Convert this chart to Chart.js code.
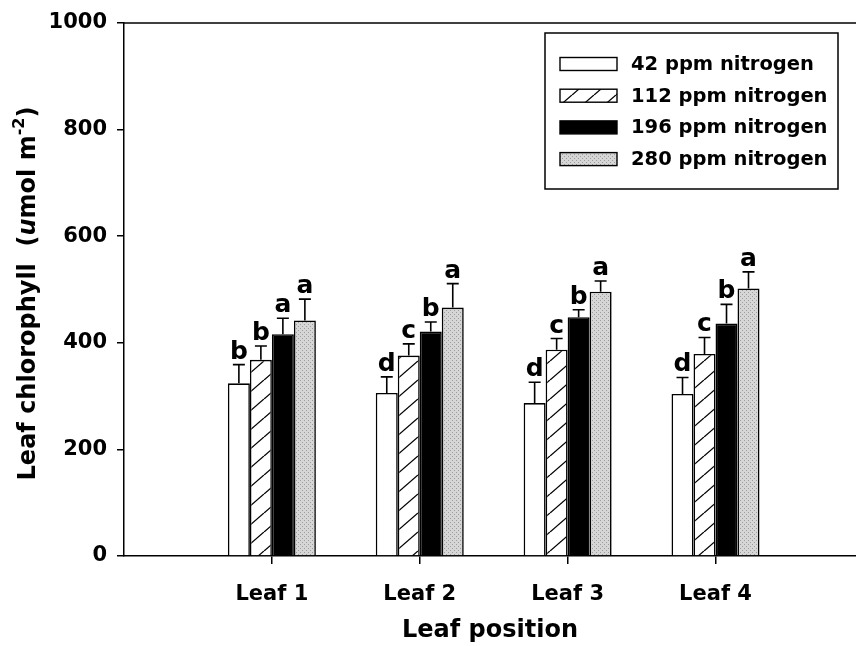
<!DOCTYPE html>
<html>
<head>
<meta charset="utf-8">
<script src="https://cdn.jsdelivr.net/npm/chart.js@4.4.1/dist/chart.umd.min.js"></script>
<style>
  html, body { margin: 0; padding: 0; background: #fff; }
  canvas { display: block; }
</style>
</head>
<body>
<canvas id="graph" width="856" height="646"></canvas>
<script>
// values (umol m-2)
var leafLabels = ["Leaf 1", "Leaf 2", "Leaf 3", "Leaf 4"];
var seriesNames = ["42 ppm nitrogen", "112 ppm nitrogen", "196 ppm nitrogen", "280 ppm nitrogen"];

var n42  = [324, 306, 287, 304];
var n112 = [368, 376, 387, 379];
var n196 = [416, 421, 448, 436];
var n280 = [442, 466, 496, 502];

var err42  = [35, 30, 39, 31];
var err112 = [26, 22, 21, 31];
var err196 = [30, 18, 14, 36];
var err280 = [40, 45, 20, 31];

var letters42  = ["b", "d", "d", "d"];
var letters112 = ["b", "c", "c", "c"];
var letters196 = ["a", "b", "b", "b"];
var letters280 = ["a", "a", "a", "a"];

var yTicks = [0, 200, 400, 600, 800, 1000];

var FONT = "'DejaVu Sans', 'Liberation Sans', sans-serif";

var ctx = document.getElementById("graph").getContext("2d");

function hatchPattern() {
    let c = document.createElement("canvas");
    c.width = 22; c.height = 19;
    let g = c.getContext("2d");
    g.fillStyle = "#fff";
    g.fillRect(0, 0, 22, 19);
    g.strokeStyle = "#000";
    g.lineWidth = 1.3;
    [-22, 0, 22].forEach(dx => {
        g.beginPath();
        g.moveTo(dx, 19);
        g.lineTo(dx + 22, 0);
        g.stroke();
    });
    return ctx.createPattern(c, "repeat");
}

function stipplePattern() {
    let c = document.createElement("canvas");
    c.width = 4; c.height = 4;
    let g = c.getContext("2d");
    g.fillStyle = "#d6d6d6";
    g.fillRect(0, 0, 4, 4);
    g.fillStyle = "#9c9c9c";
    g.fillRect(0, 0, 1, 1);
    g.fillRect(2, 2, 1, 1);
    return ctx.createPattern(c, "repeat");
}

var fills = ["#ffffff", hatchPattern(), "#000000", stipplePattern()];
var values = [n42, n112, n196, n280];
var errors = [err42, err112, err196, err280];
var letters = [letters42, letters112, letters196, letters280];

var datasets = seriesNames.map((name, i) => ({
    label: name,
    data: values[i].map((v, j) => ({ x: j + 1, y: v })),
    errors: errors[i],
    letters: letters[i],
    backgroundColor: fills[i],
    borderColor: "#000",
    borderWidth: 1.6,
    categoryPercentage: 0.595,
    barPercentage: 1.0
}));

// error bars and significance letters
var errorBars = {
    id: "errorBars",
    afterDatasetsDraw(chart) {
        let c = chart.ctx;
        let y = chart.scales.y;
        c.save();
        c.strokeStyle = "#000";
        c.fillStyle = "#000";
        c.lineWidth = 1.6;
        c.font = "bold 25px " + FONT;
        c.textAlign = "center";
        c.textBaseline = "alphabetic";
        chart.data.datasets.forEach((ds, i) => {
            chart.getDatasetMeta(i).data.forEach((bar, j) => {
                let top = y.getPixelForValue(ds.data[j].y + ds.errors[j]);
                c.beginPath();
                c.moveTo(bar.x, bar.y);
                c.lineTo(bar.x, top);
                c.moveTo(bar.x - 6, top);
                c.lineTo(bar.x + 6, top);
                c.stroke();
                c.fillText(ds.letters[j], bar.x, top - 6);
            });
        });
        c.restore();
    }
};

// boxed legend, top line of the frame, and the y title with italics/superscript
var extras = {
    id: "extras",
    afterDraw(chart) {
        let c = chart.ctx;
        let area = chart.chartArea;
        c.save();

        c.strokeStyle = "#000";
        c.lineWidth = 1.5;
        c.beginPath();
        c.moveTo(area.left, area.top);
        c.lineTo(area.right, area.top);
        c.stroke();

        let left = area.right - 311, top = area.top + 10;
        c.lineWidth = 1.5;
        c.strokeRect(left, top, 293, 156);
        c.font = "bold 19.5px " + FONT;
        c.textBaseline = "middle";
        c.textAlign = "left";
        chart.data.datasets.forEach((ds, i) => {
            let cy = top + 31 + i * 31.7;
            c.fillStyle = ds.backgroundColor;
            c.fillRect(left + 15, cy - 6.5, 57, 13);
            c.lineWidth = 1.4;
            c.strokeRect(left + 15, cy - 6.5, 57, 13);
            c.fillStyle = "#000";
            c.fillText(ds.label, left + 86, cy + 1);
        });

        // y axis title
        let parts = [
            { t: "Leaf chlorophyll  (", f: "bold 24px " + FONT, dy: 0 },
            { t: "u", f: "italic bold 24px " + FONT, dy: 0 },
            { t: "mol m", f: "bold 24px " + FONT, dy: 0 },
            { t: "-2", f: "bold 16px " + FONT, dy: -9 },
            { t: ")", f: "bold 24px " + FONT, dy: 0 }
        ];
        let total = 0;
        parts.forEach(p => { c.font = p.f; p.w = c.measureText(p.t).width; total += p.w; });
        c.translate(29, (area.top + area.bottom) / 2 + 4);
        c.rotate(-Math.PI / 2);
        c.fillStyle = "#000";
        c.textBaseline = "middle";
        let x = -total / 2;
        parts.forEach(p => {
            c.font = p.f;
            c.fillText(p.t, x, p.dy);
            x += p.w;
        });
        c.restore();
    }
};

new Chart(ctx, {
    type: "bar",
    data: { datasets: datasets },
    plugins: [errorBars, extras],
    options: {
        responsive: false,
        animation: false,
        devicePixelRatio: 1,
        layout: { padding: { top: 23, left: 0, right: 0, bottom: 0 } },
        plugins: {
            legend: { display: false },
            tooltip: { enabled: false }
        },
        scales: {
            x: {
                type: "linear",
                min: 0,
                max: 4.95,
                offset: false,
                afterBuildTicks: axis => {
                    axis.ticks = leafLabels.map((l, i) => ({ value: i + 1 }));
                },
                afterFit: axis => { axis.height = 90; },
                ticks: {
                    callback: (v, i) => leafLabels[i],
                    color: "#000",
                    font: { family: FONT, size: 21, weight: "bold" },
                    padding: 18,
                    maxRotation: 0,
                    autoSkip: false
                },
                grid: {
                    offset: false,
                    drawOnChartArea: false,
                    drawTicks: true,
                    tickLength: 8,
                    color: "#000",
                    lineWidth: 1.5
                },
                border: { color: "#000", width: 1.5 },
                title: {
                    display: true,
                    text: "Leaf position",
                    color: "#000",
                    font: { family: FONT, size: 24, weight: "bold" },
                    padding: { top: 0, bottom: 1 }
                }
            },
            y: {
                min: 0,
                max: 1000,
                afterBuildTicks: axis => {
                    axis.ticks = yTicks.map(v => ({ value: v }));
                },
                afterFit: axis => { axis.width = 124; },
                ticks: {
                    callback: v => String(v),
                    color: "#000",
                    font: { family: FONT, size: 21, weight: "bold" },
                    padding: 10
                },
                grid: {
                    drawOnChartArea: false,
                    drawTicks: true,
                    tickLength: 7,
                    color: "#000",
                    lineWidth: 1.5
                },
                border: { color: "#000", width: 1.5 }
            }
        }
    }
});
</script>
</body>
</html>
